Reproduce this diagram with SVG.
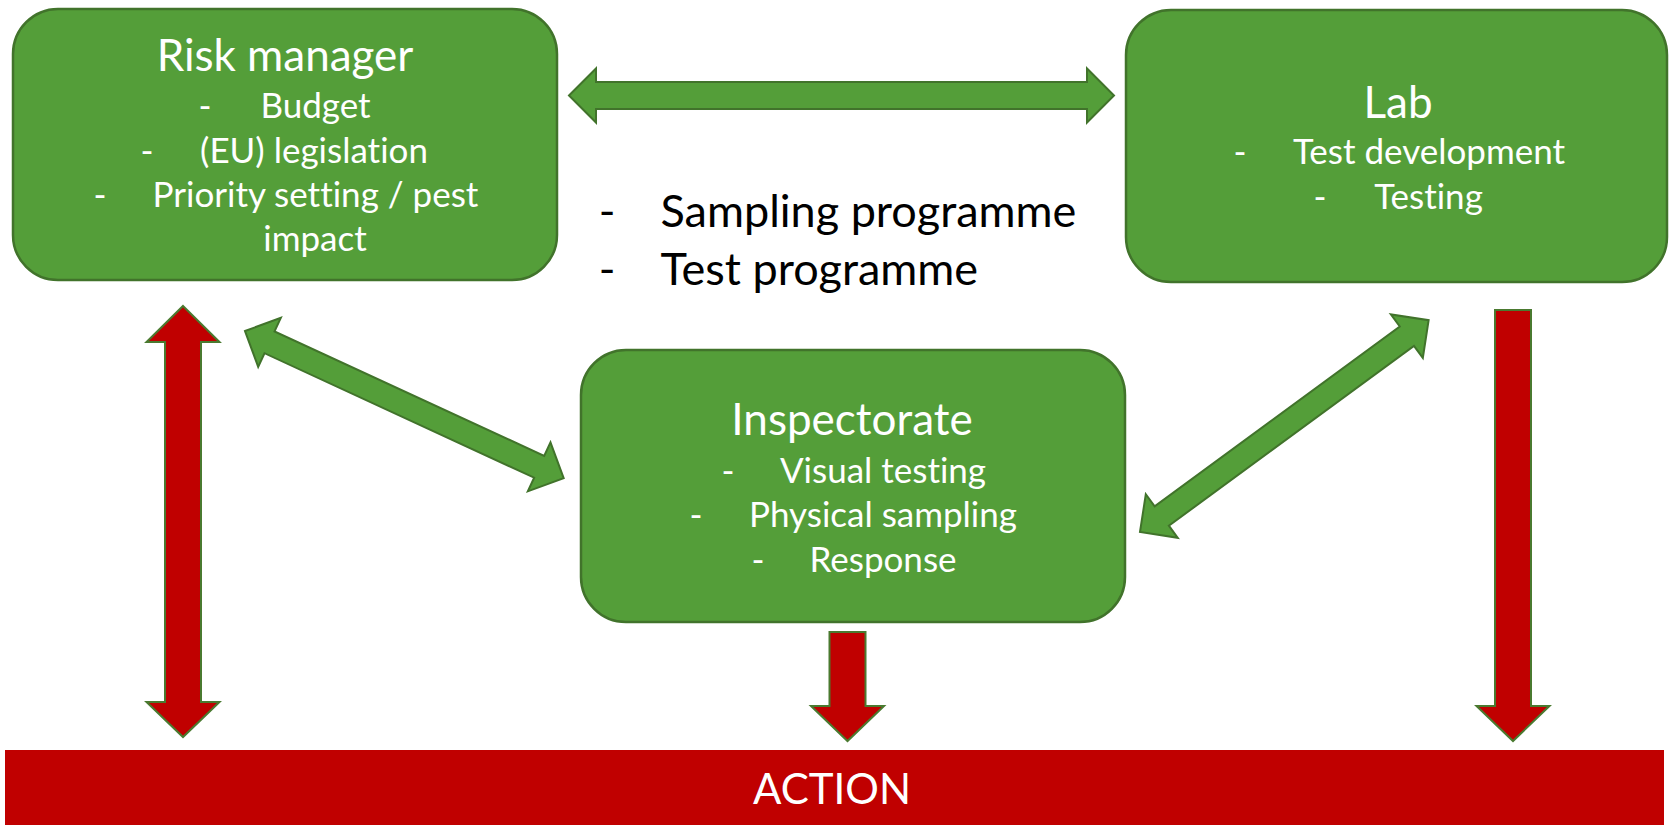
<svg xmlns="http://www.w3.org/2000/svg" width="1669" height="825" viewBox="0 0 1669 825">
  <style>
    .box { fill: #549E39; stroke: #41732B; stroke-width: 2.5; }
    .garrow { fill: #549E39; stroke: #41732B; stroke-width: 2; stroke-linejoin: miter; }
    .rarrow { fill: #C00000; stroke: #4A7A30; stroke-width: 2; stroke-linejoin: miter; }
    text { font-family: Lato, "Open Sans", "Liberation Sans", sans-serif; font-variant-ligatures: none; font-feature-settings: "liga" 0, "clig" 0; }
    .title { fill: #FFFFFF; font-size: 44px; text-anchor: middle; }
    .item { fill: #FFFFFF; font-size: 35px; text-anchor: middle; }
    .dash { fill: #FFFFFF; font-size: 35px; text-anchor: middle; }
    .note { fill: #000000; font-size: 45px; }
    .notedash { fill: #000000; font-size: 45px; text-anchor: middle; }
    .action { fill: #FFFFFF; font-size: 42px; text-anchor: middle; }
  </style>

  <!-- connectors -->
  <g id="connectors">
    <!-- Risk manager <-> Lab -->
    <polygon class="garrow" points="569,95.5 596,68.5 596,82 1087,82 1087,68.5 1114,95.5 1087,122.5 1087,109 596,109 596,122.5"/>
    <!-- Risk manager <-> Inspectorate -->
    <polygon class="garrow" transform="translate(245,331) rotate(24.78)" points="0,0 27,-27 27,-12 324,-12 324,-27 351,0 324,27 324,12 27,12 27,27"/>
    <!-- Inspectorate <-> Lab -->
    <polygon class="garrow" transform="translate(1140,532) rotate(-36.27)" points="0,0 27,-27 27,-12 331,-12 331,-27 358,0 331,27 331,12 27,12 27,27"/>
    <!-- Risk manager <-> Action -->
    <polygon class="rarrow" points="183,306 219.5,342 201,342 201,702 219.5,702 183,737 146.5,702 165,702 165,342 146.5,342"/>
    <!-- Inspectorate -> Action -->
    <polygon class="rarrow" points="829.5,632 865.5,632 865.5,706 884,706 847.5,741 811,706 829.5,706"/>
    <!-- Lab -> Action -->
    <polygon class="rarrow" points="1495,310 1531,310 1531,706 1549.5,706 1513,741 1476.5,706 1495,706"/>
  </g>

  <!-- Risk manager -->
  <g id="risk-manager">
    <rect class="box" x="13" y="9" width="544" height="271" rx="45" ry="45"/>
    <text class="title" x="285" y="71">Risk manager</text>
    <text class="dash" x="205" y="118">-</text>
    <text class="item" x="315.5" y="118">Budget</text>
    <text class="dash" x="147" y="163">-</text>
    <text class="item" x="314" y="163">(EU) legislation</text>
    <text class="dash" x="100" y="207">-</text>
    <text class="item" x="315.5" y="207">Priority setting / pest</text>
    <text class="item" x="315" y="251">impact</text>
  </g>

  <!-- Lab -->
  <g id="lab">
    <rect class="box" x="1126" y="10" width="541" height="272" rx="45" ry="45"/>
    <text class="title" x="1398" y="118">Lab</text>
    <text class="dash" x="1240" y="164">-</text>
    <text class="item" x="1429" y="164">Test development</text>
    <text class="dash" x="1320" y="209">-</text>
    <text class="item" x="1428.5" y="209">Testing</text>
  </g>

  <!-- Inspectorate -->
  <g id="inspectorate">
    <rect class="box" x="581" y="350" width="544" height="272" rx="45" ry="45"/>
    <text class="title" x="852" y="435">Inspectorate</text>
    <text class="dash" x="728" y="483">-</text>
    <text class="item" x="883" y="483">Visual testing</text>
    <text class="dash" x="696" y="527">-</text>
    <text class="item" x="883" y="527">Physical sampling</text>
    <text class="dash" x="758" y="572">-</text>
    <text class="item" x="883" y="572">Response</text>
  </g>

  <!-- Programmes -->
  <g id="programmes">
    <text class="notedash" x="607" y="227">-</text>
    <text class="note" x="660.5" y="227">Sampling programme</text>
    <text class="notedash" x="607" y="285">-</text>
    <text class="note" x="660.5" y="285">Test programme</text>
  </g>

  <!-- Action -->
  <g id="action">
    <rect x="5" y="750" width="1659" height="75" fill="#C00000"/>
    <text class="action" x="832" y="804">ACTION</text>
  </g>
</svg>
